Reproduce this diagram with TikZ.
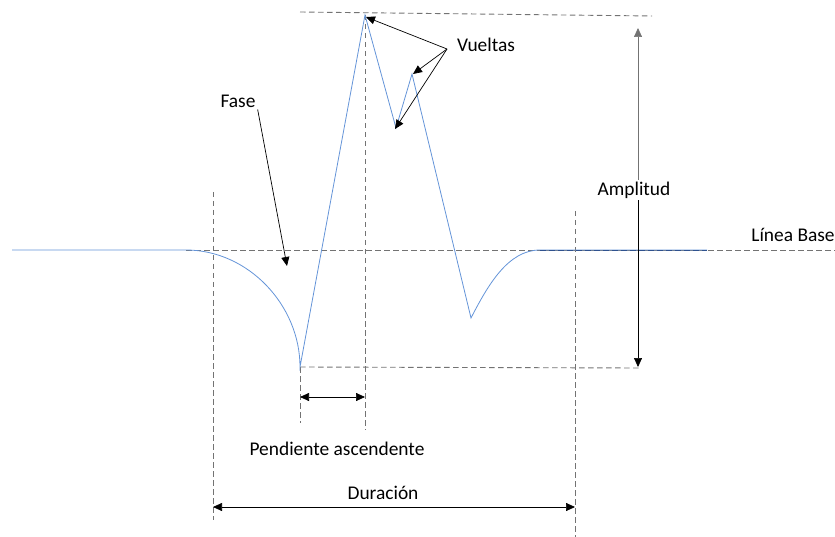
\documentclass[tikz,border=0pt]{standalone}
\usepackage{fontspec}
\setmainfont{Carlito}
\usetikzlibrary{arrows.meta}
\definecolor{signalblue}{RGB}{100,148,216}
\definecolor{darkblue}{RGB}{47,82,143}

\begin{document}
\begin{tikzpicture}[
    x=1pt, y=-1pt,
    signal_line/.style={signalblue, line width=0.8pt},
    guide_line/.style={black!55, line width=0.9pt, dash pattern=on 5.5pt off 3.5pt},
    dim_arrow/.style={black, line width=0.7pt, -{Triangle[length=9pt,width=8pt]}},
    dim_both/.style={black, line width=0.7pt, {Triangle[length=9pt,width=8pt]}-{Triangle[length=9pt,width=8pt]}},
    label_text/.style={font=\fontsize{19.4}{23}\selectfont, inner sep=2pt}
]
    \useasboundingbox (0,0) rectangle (835,537);

    % Signal points
    \coordinate (s0) at (12,250);
    \coordinate (s1) at (186,250);
    \coordinate (low1) at (300,367);
    \coordinate (peak) at (365,15);
    \coordinate (turn1) at (396,128);
    \coordinate (turn2) at (412,74);
    \coordinate (low2) at (471,318);
    \coordinate (s2) at (540,250);
    \coordinate (s3) at (707,250);
    \coordinate (baseend) at (835,250);

    % Guide lines
    \coordinate (topl) at (300,12);
    \coordinate (topr) at (652,16);
    \coordinate (botr) at (640,368);
    \draw[guide_line] (s1) -- (baseend);
    \draw[guide_line] (topl) -- (topr);
    \draw[guide_line] (low1) -- (botr);
    \draw[guide_line] (213,192) -- (213,520);
    \draw[guide_line] (300,367) -- (300,423);
    \draw[guide_line] (365,15) -- (365,430);
    \draw[guide_line] (575,211) -- (575,537);

    % Signal
    \draw[signal_line] (s0) -- (s1)
        .. controls (248,250) and (300,305) .. (low1)
        -- (peak) -- (turn1) -- (turn2) -- (low2)
        .. controls (488,285) and (508,250) .. (s2) -- (s3);
    \draw[darkblue, line width=0.8pt, dash pattern=on 5.5pt off 3.5pt] (s2) -- (s3);

    % Labels
    \node[label_text] (fase) at (238,101) {Fase};
    \node[label_text] (vueltas) at (486,45) {Vueltas};
    \node[label_text] (amp) at (634,190) {Amplitud};
    \node[label_text] (base) at (793,235) {Línea Base};
    \node[label_text] (pend) at (337,449) {Pendiente ascendente};
    \node[label_text] (dur) at (383,493) {Duración};

    % Arrows
    \coordinate (fasept) at (287,266);
    \coordinate (vsrc) at (447,49);
    \coordinate (amptop) at (638,28);
    \coordinate (ampbot) at (638,367);
    \draw[dim_arrow] (fase.south east) -- (fasept);
    \draw[dim_arrow] (vsrc) -- (366,17);
    \draw[dim_arrow] (vsrc) -- (413,74);
    \draw[dim_arrow] (vsrc) -- (395,129);
    \draw[dim_arrow, black!55] (amptop |- amp.north) -- (amptop);
    \draw[dim_arrow] (ampbot |- amp.south) -- (ampbot);
    \draw[dim_both] (300,397) -- (365,397);
    \draw[dim_both] (213,507) -- (575,507);
\end{tikzpicture}
\end{document}
